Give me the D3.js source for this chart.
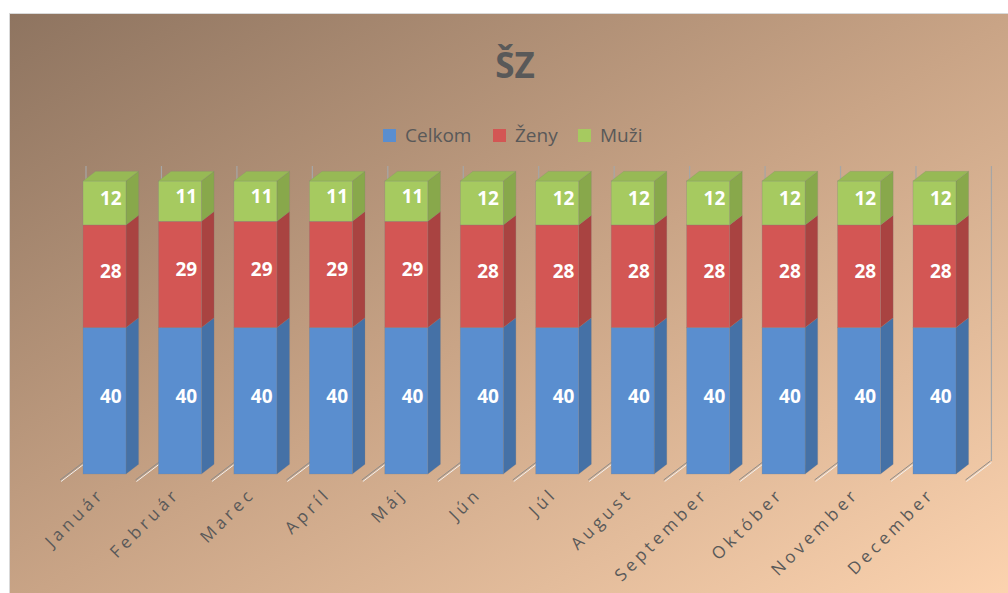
<!DOCTYPE html>
<html>
<head>
<meta charset="utf-8">
<script src="https://cdn.jsdelivr.net/npm/d3@7"></script>
<style>
  html, body { margin: 0; padding: 0; background: #fff; }
  text { font-family: "Open Sans", sans-serif; }
</style>
</head>
<body>
<svg id="chart" width="1008" height="593"></svg>
<script>
// data
const months = ["Január", "Február", "Marec", "Apríl", "Máj", "Jún", "Júl", "August", "September", "Október", "November", "December"];
const seriesNames = ["Celkom", "Ženy", "Muži"];
const celkom = [40, 40, 40, 40, 40, 40, 40, 40, 40, 40, 40, 40];
const zeny   = [28, 29, 29, 29, 29, 28, 28, 28, 28, 28, 28, 28];
const muzi   = [12, 11, 11, 11, 11, 12, 12, 12, 12, 12, 12, 12];
const title = "ŠZ";

const width = 1008, height = 593;
const svg = d3.select("#chart");

// farby pre predok / bok / vrch
const faceColor = { "Celkom": "#5a8ecf", "Ženy": "#d35654", "Muži": "#a6ca60" };
const sideColor = { "Celkom": "#4571a6", "Ženy": "#a94341", "Muži": "#88a84b" };
const topColor  = { "Celkom": "#6b9bd8", "Ženy": "#dc6b68", "Muži": "#97b955" };

// pozadie - gradient
const defs = svg.append("defs");
const grad = defs.append("linearGradient")
    .attr("id", "bg")
    .attr("x1", 0).attr("y1", 0).attr("x2", 1).attr("y2", 1);
grad.append("stop").attr("offset", "0%").attr("stop-color", "#8e7460");
grad.append("stop").attr("offset", "50%").attr("stop-color", "#c9a486");
grad.append("stop").attr("offset", "100%").attr("stop-color", "#fdd4b0");

svg.append("rect")
    .attr("x", 9.5).attr("y", 13.5)
    .attr("width", width).attr("height", height)
    .attr("fill", "url(#bg)")
    .attr("stroke", "#d9d9d9");

// scales
const x = d3.scaleBand()
    .domain(months)
    .range([61.5, 977.5])
    .paddingInner(0.43)
    .paddingOuter(0.285);

const y = d3.scaleLinear()
    .domain([0, 80])
    .range([474, 181]);

const dx = 12.6, dy = -9.7;   // hlbka 3D
const bw = x.bandwidth();

// stack
const table = months.map((m, i) => ({ month: m, "Celkom": celkom[i], "Ženy": zeny[i], "Muži": muzi[i] }));
const series = d3.stack().keys(seriesNames)(table);

// zadna stena a podlaha
const grid = svg.append("g");
const bounds = d3.range(months.length + 1).map(i => i < months.length ? x(months[i]) : x(months[months.length - 1]) + x.step());
bounds.forEach(bx => {
  grid.append("line")
      .attr("x1", bx + 3).attr("x2", bx + 3)
      .attr("y1", y(80) - 15).attr("y2", y(0) - 13)
      .attr("stroke", "#a6a6a6").attr("stroke-width", 1.2);
  grid.append("line")
      .attr("x1", bx - 23).attr("y1", y(0) + 6)
      .attr("x2", bx + 2).attr("y2", y(0) - 13)
      .attr("stroke", "#8c8c8c").attr("stroke-width", 1);
  grid.append("line")
      .attr("x1", bx - 22).attr("y1", y(0) + 7.5)
      .attr("x2", bx + 3).attr("y2", y(0) - 11.5)
      .attr("stroke", "#f2f2f2").attr("stroke-width", 1);
});

// stlpce
const bars = svg.append("g");
months.forEach((m, i) => {
  const g = bars.append("g");
  const x0 = x(m), x1 = x0 + bw;
  series.forEach((s, si) => {
    const d = s[i];
    const yb = y(d[0]), yt = y(d[1]);
    // bok
    g.append("path")
        .attr("d", `M${x1},${yb}L${x1 + dx},${yb + dy}L${x1 + dx},${yt + dy}L${x1},${yt}Z`)
        .attr("fill", sideColor[s.key])
        .attr("stroke", "#7f7f7f").attr("stroke-opacity", 0.35).attr("stroke-width", 0.6);
    // predok
    g.append("rect")
        .attr("x", x0).attr("y", yt)
        .attr("width", bw).attr("height", yb - yt)
        .attr("fill", faceColor[s.key])
        .attr("stroke", "#7f7f7f").attr("stroke-opacity", 0.45).attr("stroke-width", 0.6);
    if (si === series.length - 1) {
      g.append("path")
          .attr("d", `M${x0},${yt}L${x0 + dx},${yt + dy}L${x1 + dx},${yt + dy}L${x1},${yt}Z`)
          .attr("fill", topColor[s.key])
          .attr("stroke", "#7f7f7f").attr("stroke-opacity", 0.35).attr("stroke-width", 0.6);
    }
    // popisky
    g.append("text")
        .attr("x", x0 + bw / 2 + dx / 2)
        .attr("y", (yb + yt) / 2 + dy / 2)
        .attr("dy", "0.35em")
        .attr("text-anchor", "middle")
        .attr("fill", "#fff")
        .attr("font-weight", "bold")
        .attr("font-size", 19)
        .text(d.data[s.key]);
  });
});

// os x - otocene popisky
svg.append("g")
  .selectAll("text")
  .data(months)
  .join("text")
    .attr("transform", d => `translate(${x(d) + bw / 2 + 1},${495}) rotate(-45)`)
    .attr("text-anchor", "end")
    .attr("fill", "#595959")
    .attr("font-size", 17)
    .attr("letter-spacing", "4px")
    .text(d => d);

// nadpis
svg.append("text")
    .attr("x", 515).attr("y", 78)
    .attr("text-anchor", "middle")
    .attr("fill", "#595959")
    .attr("font-weight", "bold")
    .attr("font-size", 35)
    .text(title);

// legenda
const legendX = [383, 493, 578];
const legend = svg.append("g");
seriesNames.forEach((name, i) => {
  legend.append("rect")
      .attr("x", legendX[i]).attr("y", 129)
      .attr("width", 13).attr("height", 13)
      .attr("fill", faceColor[name]);
  legend.append("text")
      .attr("x", legendX[i] + 22).attr("y", 142)
      .attr("fill", "#595959")
      .attr("font-size", 19)
      .text(name);
});
</script>
</body>
</html>
